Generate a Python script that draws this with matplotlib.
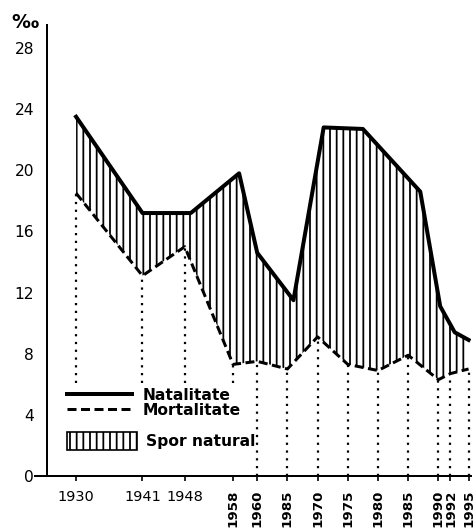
import matplotlib.pyplot as plt
from matplotlib.lines import Line2D
from matplotlib.patches import Patch

# natalitate (linia plina) - anii unde apar varfurile pe grafic
ani_natalitate = [1930, 1941, 1949, 1957, 1960, 1966, 1971, 1977.5, 1987, 1990.3, 1992.7, 1995]
natalitate = [23.5, 17.2, 17.2, 19.8, 14.6, 11.5, 22.8, 22.7, 18.6, 11.1, 9.4, 8.9]

# mortalitate (linia intrerupta)
ani_mortalitate = [1930, 1941, 1948, 1956, 1960, 1965, 1970, 1975, 1980, 1985, 1990, 1992, 1995]
mortalitate = [18.5, 13.1, 15.0, 7.3, 7.5, 7.0, 9.1, 7.3, 6.9, 7.9, 6.3, 6.7, 7.0]

etichete_ani = ['1930', '1941', '1948', '1958', '1960', '1985', '1970',
                '1975', '1980', '1985', '1990', '1992', '1995']
valori_y = [0, 4, 8, 12, 16, 20, 24, 28]

DPI = 80
plt.rcParams['hatch.linewidth'] = 1.6

fig = plt.figure(figsize=(475 / DPI, 529 / DPI), dpi=DPI)
ax = fig.add_axes([35 / 475, 53 / 529, 436 / 475, 451 / 529])

# spor natural = zona dintre cele doua curbe
poly_x = ani_natalitate + ani_mortalitate[::-1]
poly_y = natalitate + mortalitate[::-1]
ax.fill(poly_x, poly_y, facecolor='white', edgecolor='black', hatch='||', linewidth=0)

ax.plot(ani_natalitate, natalitate, color='black', lw=3.6)
ax.plot(ani_mortalitate, mortalitate, color='black', lw=2.7, linestyle=(0, (3, 1.5)))

# liniile punctate se opresc deasupra legendei in partea stanga
fond = [6.1 if a < 1958 else 0 for a in ani_mortalitate]
ax.vlines(ani_mortalitate, fond, mortalitate, colors='black', lw=2,
          linestyles=[(0, (1, 2.5))])

ax.set_xlim(1923.2, 1995.4)
ax.set_ylim(0, 29.5)

ax.set_xticks(ani_mortalitate, etichete_ani)
ax.set_yticks(valori_y)
ax.tick_params(axis='y', length=0, pad=11.7, labelsize=14)
ax.tick_params(axis='x', length=4.5, width=1.5, pad=8, labelsize=13)
for lbl in ax.get_xticklabels()[3:]:
    lbl.set_rotation(90)
    lbl.set_fontweight('bold')
    lbl.set_fontsize(12)

for s in ['top', 'right']:
    ax.spines[s].set_visible(False)
ax.spines['left'].set_position(('axes', 12 / 436))
ax.spines['left'].set_linewidth(1.8)
ax.spines['bottom'].set_linewidth(1.8)

fig.text(25 / 475, 1 - 23 / 529, '‰', fontsize=17, fontweight='bold', ha='center', va='center')

# legenda in doua parti (randuri cu inaltimi diferite)
h_linii = [Line2D([], [], color='black', lw=3.6),
           Line2D([], [], color='black', lw=2.7, linestyle=(0, (3, 1.5)))]
fig.legend(h_linii, ['Natalitate', 'Mortalitate'], loc='upper left',
           bbox_to_anchor=(62 / 475, 1 - 383 / 529), borderpad=0.3, borderaxespad=0,
           handlelength=4.2, handleheight=0.7, handletextpad=0.7, labelspacing=0,
           prop={'size': 14, 'weight': 'bold'}, frameon=False)

h_spor = [Patch(facecolor='white', edgecolor='black', hatch='||', lw=1.5)]
fig.legend(h_spor, ['Spor natural'], loc='upper left',
           bbox_to_anchor=(62 / 475, 1 - 427 / 529), borderpad=0.3, borderaxespad=0,
           handlelength=4.5, handleheight=1.45, handletextpad=0.6,
           prop={'size': 14, 'weight': 'bold'}, frameon=False)

fig.savefig('out.png', dpi=DPI)
